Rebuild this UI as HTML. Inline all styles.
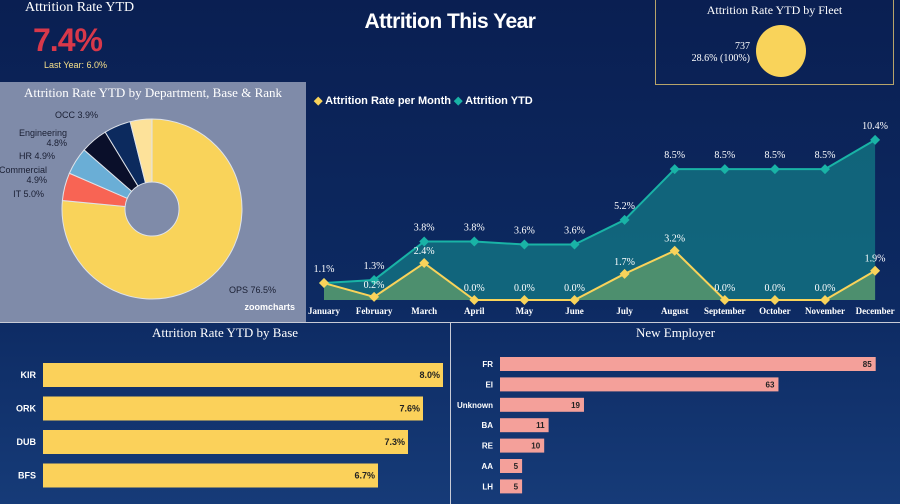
<!DOCTYPE html>
<html><head><meta charset="utf-8"><style>
body{margin:0;width:900px;height:504px;overflow:hidden;font-family:"Liberation Sans",sans-serif;}
#root{position:relative;width:900px;height:504px;background:linear-gradient(180deg,#0a1f52 0%,#0d2a62 60%,#163b78 100%);}
.abs{position:absolute;}
.serif{font-family:"Liberation Serif",serif;color:#fff;}
</style></head><body>
<div id="root">
<div class="abs serif" style="left:25px;top:0;font-size:14px">Attrition Rate YTD</div>
<div class="abs" style="left:33px;top:22px;font-size:32px;font-weight:bold;color:#d8384a;letter-spacing:-1px">7.4%</div>
<div class="abs" style="left:44px;top:60px;font-size:9px;color:#f6e08a">Last Year: 6.0%</div>
<div class="abs" style="left:0;width:900px;top:10px;text-align:center;font-size:21px;font-weight:bold;color:#fff;letter-spacing:-0.5px">Attrition This Year</div>
<div class="abs" style="left:655px;top:-2px;width:237px;height:85px;border:1px solid #b7a46a">
<div class="serif" style="text-align:center;font-size:12px;margin-top:4px">Attrition Rate YTD by Fleet</div>
<div class="abs serif" style="left:10px;top:42px;font-size:10px;color:#fff;text-align:right;width:84px;line-height:12px">737<br>28.6% (100%)</div>
<div class="abs" style="left:100px;top:26px;width:50px;height:52px;border-radius:50%;background:#f9d35a"></div>
</div>
<div class="abs" style="left:0;top:82px;width:306px;height:240px;background:#7f8ba9">
<div class="serif" style="text-align:center;font-size:13px;margin-top:3px">Attrition Rate YTD by Department, Base &amp; Rank</div>
<svg class="abs" style="left:0;top:0" width="306" height="240" id="pie"></svg>
</div>
<svg class="abs" style="left:306px;top:84px" width="594" height="240" id="line"></svg>
<div class="abs" style="left:0;top:322px;width:900px;height:1px;background:#c8cbd6"></div>
<div class="abs" style="left:450px;top:322px;width:1px;height:182px;background:#c8cbd6"></div>
<div class="abs serif" style="left:0;width:450px;top:325px;text-align:center;font-size:13px">Attrition Rate YTD by Base</div>
<div class="abs serif" style="left:451px;width:449px;top:325px;text-align:center;font-size:13px">New Employer</div>
<svg class="abs" style="left:0;top:0" width="900" height="504" id="bars"></svg>
</div>
<script>
const NS="http://www.w3.org/2000/svg";
function mk(p,t,a,txt){const e=document.createElementNS(NS,t);for(const k in a)e.setAttribute(k,a[k]);if(txt!=null)e.textContent=txt;p.appendChild(e);return e;}
// pie
const deptNames=["OPS","IT","Commercial","HR","Engineering","OCC"];
const deptValues=[76.5,5.0,4.9,4.9,4.8,3.9];
const deptColors=["#f9d35a","#f86454","#6aaed6","#0a0f2a","#0c2a5e","#fde29a"];
const pie=document.getElementById('pie');
const cx=152,cy=127,R=90,r=27;
let tot=deptValues.reduce((a,b)=>a+b,0),acc=0;
function pt(a,rad){return [cx+rad*Math.sin(a),cy-rad*Math.cos(a)];}
const labelLines=[["OPS 76.5%"],["IT 5.0%"],["Commercial","4.9%"],["HR 4.9%"],["Engineering","4.8%"],["OCC 3.9%"]];
const labelPos=[[229,211,'start'],[44,115,'end'],[47,91,'end'],[55,77,'end'],[67,54,'end'],[98,36,'end']];
deptValues.forEach((v,i)=>{
 const a0=acc/tot*2*Math.PI;acc+=v;const a1=acc/tot*2*Math.PI;const lg=a1-a0>Math.PI?1:0;
 const [x0,y0]=pt(a0,R),[x1,y1]=pt(a1,R),[x2,y2]=pt(a1,r),[x3,y3]=pt(a0,r);
 const p=mk(pie,'path',{d:`M${x0},${y0}A${R},${R} 0 ${lg} 1 ${x1},${y1}L${x2},${y2}A${r},${r} 0 ${lg} 0 ${x3},${y3}Z`,fill:deptColors[i],stroke:'#dfe3ea','stroke-width':1});
 
 
 const [lx,ly,anc]=labelPos[i];
 const t=mk(pie,'text',{x:lx,y:ly,'font-size':9,fill:'#1a1f33','text-anchor':anc,'font-family':'Liberation Sans'});
 labelLines[i].forEach((s,j)=>mk(t,'tspan',{x:lx,dy:j?10:0},s));
 
 
});
mk(pie,'text',{x:295,y:228,'font-size':9,fill:'#fff','text-anchor':'end','font-weight':'bold'},'zoomcharts');
// line chart
const months=["January","February","March","April","May","June","July","August","September","October","November","December"];
const monthly=[1.1,0.2,2.4,0.0,0.0,0.0,1.7,3.2,0.0,0.0,0.0,1.9];
const ytd=[1.1,1.3,3.8,3.8,3.6,3.6,5.2,8.5,8.5,8.5,8.5,10.4];
const L=document.getElementById('line');
const X=i=>18+i*50.1, Y=v=>216-v*15.4;
const t1=mk(L,'text',{x:8,y:20,'font-size':11,fill:'#fff','font-weight':'bold'});t1.innerHTML='<tspan fill="#f9d35a">◆</tspan> Attrition Rate per Month';
const t2=mk(L,'text',{x:148,y:20,'font-size':11,fill:'#fff','font-weight':'bold'});t2.innerHTML='<tspan fill="#19b3a6">◆</tspan> Attrition YTD';
let d1='M'+X(0)+','+Y(0);ytd.forEach((v,i)=>d1+='L'+X(i)+','+Y(v));d1+='L'+X(11)+','+Y(0)+'Z';
const a1=mk(L,'path',{d:d1,fill:'#137a86','fill-opacity':0.75});
let d2='M'+X(0)+','+Y(0);monthly.forEach((v,i)=>d2+='L'+X(i)+','+Y(v));d2+='L'+X(11)+','+Y(0)+'Z';
mk(L,'path',{d:d2,fill:'#5d9a6a','fill-opacity':0.8});
mk(L,'polyline',{points:ytd.map((v,i)=>X(i)+','+Y(v)).join(' '),fill:'none',stroke:'#19b3a6','stroke-width':2});
mk(L,'polyline',{points:monthly.map((v,i)=>X(i)+','+Y(v)).join(' '),fill:'none',stroke:'#f9d35a','stroke-width':2});
function dia(x,y,c){return mk(L,'path',{d:`M${x},${y-5}L${x+5},${y}L${x},${y+5}L${x-5},${y}Z`,fill:c});}
months.forEach((m,i)=>{
 const a=dia(X(i),Y(ytd[i]),'#19b3a6');
 const b=dia(X(i),Y(monthly[i]),'#f9d35a');
 mk(L,'text',{x:X(i),y:Y(ytd[i])-11,'font-size':10,fill:'#fff','text-anchor':'middle','font-family':'Liberation Serif'},ytd[i].toFixed(1)+'%');
 if(Math.abs(Y(ytd[i])-Y(monthly[i]))>8)
 mk(L,'text',{x:X(i),y:Y(monthly[i])-9,'font-size':10,fill:'#fff','text-anchor':'middle','font-family':'Liberation Serif'},monthly[i].toFixed(1)+'%');
 mk(L,'text',{x:X(i),y:230,'font-size':9,fill:'#fff','text-anchor':'middle','font-weight':'bold','font-family':'Liberation Serif'},m);
});
// bars
const B=document.getElementById('bars');
const bases=["KIR","ORK","DUB","BFS"];
const baseValues=[8.0,7.6,7.3,6.7];
bases.forEach((b,i)=>{
 const y=363+i*33.5,w=baseValues[i]*50;
 const r=mk(B,'rect',{x:43,y:y,width:w,height:24,fill:'#fbd15a'});
 mk(B,'text',{x:36,y:y+15,'font-size':9,fill:'#fff','font-weight':'bold','text-anchor':'end'},b);
 mk(B,'text',{x:43+w-3,y:y+15,'font-size':9,fill:'#222','font-weight':'bold','text-anchor':'end'},baseValues[i].toFixed(1)+'%');
});
const employers=["FR","EI","Unknown","BA","RE","AA","LH"];
const empValues=[85,63,19,11,10,5,5];
employers.forEach((e,i)=>{
 const y=357+i*20.4,w=empValues[i]*4.42;
 const r=mk(B,'rect',{x:500,y:y,width:w,height:14,fill:'#f4a09a'});
 mk(B,'text',{x:493,y:y+10,'font-size':8,fill:'#fff','font-weight':'bold','text-anchor':'end'},e);
 mk(B,'text',{x:500+w-4,y:y+10,'font-size':8,fill:'#222','font-weight':'bold','text-anchor':'end'},empValues[i]);
});
</script>
</body></html>
